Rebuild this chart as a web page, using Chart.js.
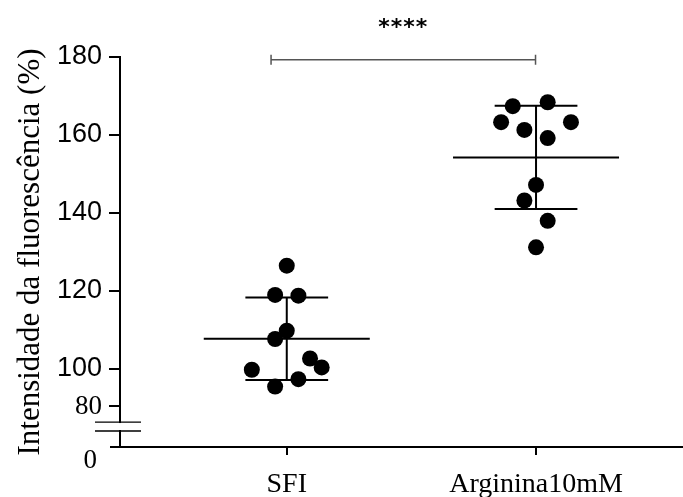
<!DOCTYPE html>
<html>
<head>
<meta charset="utf-8">
<script src="https://cdn.jsdelivr.net/npm/chart.js@4"></script>
<style>
html, body { margin: 0; padding: 0; background: #fff; }
#wrap { width: 683px; height: 497px; }
</style>
</head>
<body>
<div id="wrap"><canvas id="chart"></canvas></div>
<script>
// values
const groups = ['SFI', 'Arginina10mM'];
const sfiValues = [126.5, 119.0, 118.8, 109.8, 107.7, 102.7, 100.4, 99.8, 97.4, 95.5];
const sfiJitter = [0, -1, 1, 0, -1, 2, 3, -3, 1, -1];
const argValues = [167.4, 168.4, 163.3, 163.3, 161.3, 159.2, 147.2, 143.2, 138.0, 131.2];
const argJitter = [-2, 1, -3, 3, -1, 1, 0, -1, 1, 0];
// the axis is broken: the "80" label sits where the break puts it
const yTickValues = [90.4, 100, 120, 140, 160, 180];
const yTickLabels = ['80', '100', '120', '140', '160', '180'];

const JITTER = 0.0467;
const MEAN_HALF = 0.333;
const CAP_HALF = 0.166;

function mean(arr){
	return arr.reduce((a, b) => a + b, 0) / arr.length;
}
function sd(arr){
	let m = mean(arr);
	return Math.sqrt(arr.reduce((a, b) => a + (b - m) * (b - m), 0) / (arr.length - 1));
}

function points(values, jitter, center){
	return values.map((v, i) => ({x: center + jitter[i] * JITTER, y: v}));
}

function summary(values, center){
	let m = mean(values), s = sd(values);
	let gap = {x: NaN, y: NaN};
	return [
		{x: center - MEAN_HALF, y: m}, {x: center + MEAN_HALF, y: m}, gap,
		{x: center, y: m - s}, {x: center, y: m + s}, gap,
		{x: center - CAP_HALF, y: m + s}, {x: center + CAP_HALF, y: m + s}, gap,
		{x: center - CAP_HALF, y: m - s}, {x: center + CAP_HALF, y: m - s}
	];
}

const bracketX = [0.937, 1.998];
const bracketY = 179.3;
const bracketTick = 1.3;

const serif = 'Liberation Serif';
const sans = 'Liberation Sans';

const axisBreak = {
	id: 'axisBreak',
	afterDraw(chart){
		const {ctx, chartArea, scales: {x, y}} = chart;
		const x0 = chartArea.left;
		const yTop = y.getPixelForValue(86.4);
		const yBot = y.getPixelForValue(84.1);
		ctx.save();
		ctx.fillStyle = '#fff';
		ctx.fillRect(x0 - 3, yTop + 1, 6, yBot - yTop - 2);
		ctx.strokeStyle = '#000';
		ctx.lineWidth = 1.3;
		ctx.beginPath();
		ctx.moveTo(x0 - 25, yTop); ctx.lineTo(x0 + 21, yTop);
		ctx.moveTo(x0 - 25, yBot); ctx.lineTo(x0 + 21, yBot);
		ctx.stroke();
		// x axis runs a little past the y axis and to the edge
		ctx.lineWidth = 2;
		ctx.beginPath();
		ctx.moveTo(x0 - 10, chartArea.bottom); ctx.lineTo(x0 + 1, chartArea.bottom);
		ctx.moveTo(chartArea.right - 1, chartArea.bottom); ctx.lineTo(chart.width, chartArea.bottom);
		ctx.stroke();

		ctx.fillStyle = '#000';
		ctx.font = '27px "' + serif + '"';
		ctx.textAlign = 'right';
		ctx.textBaseline = 'alphabetic';
		ctx.fillText('0', x0 - 23, chartArea.bottom + 21);

		let mid = (x.getPixelForValue(bracketX[0]) + x.getPixelForValue(bracketX[1])) / 2;
		ctx.font = 'bold 22px "DejaVu Sans"';
		ctx.textAlign = 'center';
		ctx.letterSpacing = '1px';
		ctx.fillText('****', mid, 34);
		ctx.restore();
	}
};

new Chart(document.getElementById('chart'), {
	type: 'scatter',
	data: {
		datasets: [
			{
				data: points(sfiValues, sfiJitter, 1),
				backgroundColor: '#000',
				borderWidth: 0,
				pointRadius: 8
			},
			{
				data: points(argValues, argJitter, 2),
				backgroundColor: '#000',
				borderWidth: 0,
				pointRadius: 8
			},
			{
				data: summary(sfiValues, 1),
				showLine: true,
				borderColor: '#000',
				borderWidth: 2,
				pointRadius: 0,
				spanGaps: false
			},
			{
				data: summary(argValues, 2),
				showLine: true,
				borderColor: '#000',
				borderWidth: 2,
				pointRadius: 0,
				spanGaps: false
			},
			{
				data: [
					{x: bracketX[0], y: bracketY + bracketTick}, {x: bracketX[0], y: bracketY - bracketTick}, {x: NaN, y: NaN},
					{x: bracketX[0], y: bracketY}, {x: bracketX[1], y: bracketY}, {x: NaN, y: NaN},
					{x: bracketX[1], y: bracketY + bracketTick}, {x: bracketX[1], y: bracketY - bracketTick}
				],
				showLine: true,
				borderColor: '#555',
				borderWidth: 1.5,
				pointRadius: 0,
				spanGaps: false,
				clip: false
			}
		]
	},
	options: {
		responsive: true,
		maintainAspectRatio: false,
		animation: false,
		devicePixelRatio: 1,
		layout: {padding: {top: 57, left: 0, right: 0, bottom: 0}},
		plugins: {
			legend: {display: false},
			tooltip: {enabled: false}
		},
		scales: {
			x: {
				type: 'linear',
				min: 0.331,
				max: 2.5575,
				afterFit: scale => {
					scale.height = 50;
					scale.paddingLeft = 0;
					scale.paddingRight = 0;
				},
				afterBuildTicks: scale => { scale.ticks = groups.map((g, i) => ({value: i + 1})); },
				grid: {drawOnChartArea: false, tickLength: 8, tickColor: '#000', lineWidth: 2},
				border: {color: '#000', width: 2},
				ticks: {
					callback: (value, index) => groups[index],
					color: '#000',
					font: {family: serif, size: 28},
					padding: 13,
					maxRotation: 0,
					autoSkip: false
				}
			},
			y: {
				min: 80,
				max: 180,
				afterFit: scale => { scale.width = 120; },
				afterBuildTicks: scale => { scale.ticks = yTickValues.map(v => ({value: v})); },
				grid: {drawOnChartArea: false, tickLength: 11, tickColor: '#000', lineWidth: 2},
				border: {color: '#000', width: 2},
				ticks: {
					callback: (value, index) => yTickLabels[index],
					color: '#000',
					font: ctx => ({family: ctx.index === 0 ? serif : sans, size: 27}),
					padding: 7
				},
				title: {
					display: true,
					text: 'Intensidade da fluorescência (%)',
					color: '#000',
					font: {family: serif, size: 31},
					padding: {top: 12, bottom: 0}
				}
			}
		}
	},
	plugins: [axisBreak]
});
</script>
</body>
</html>
